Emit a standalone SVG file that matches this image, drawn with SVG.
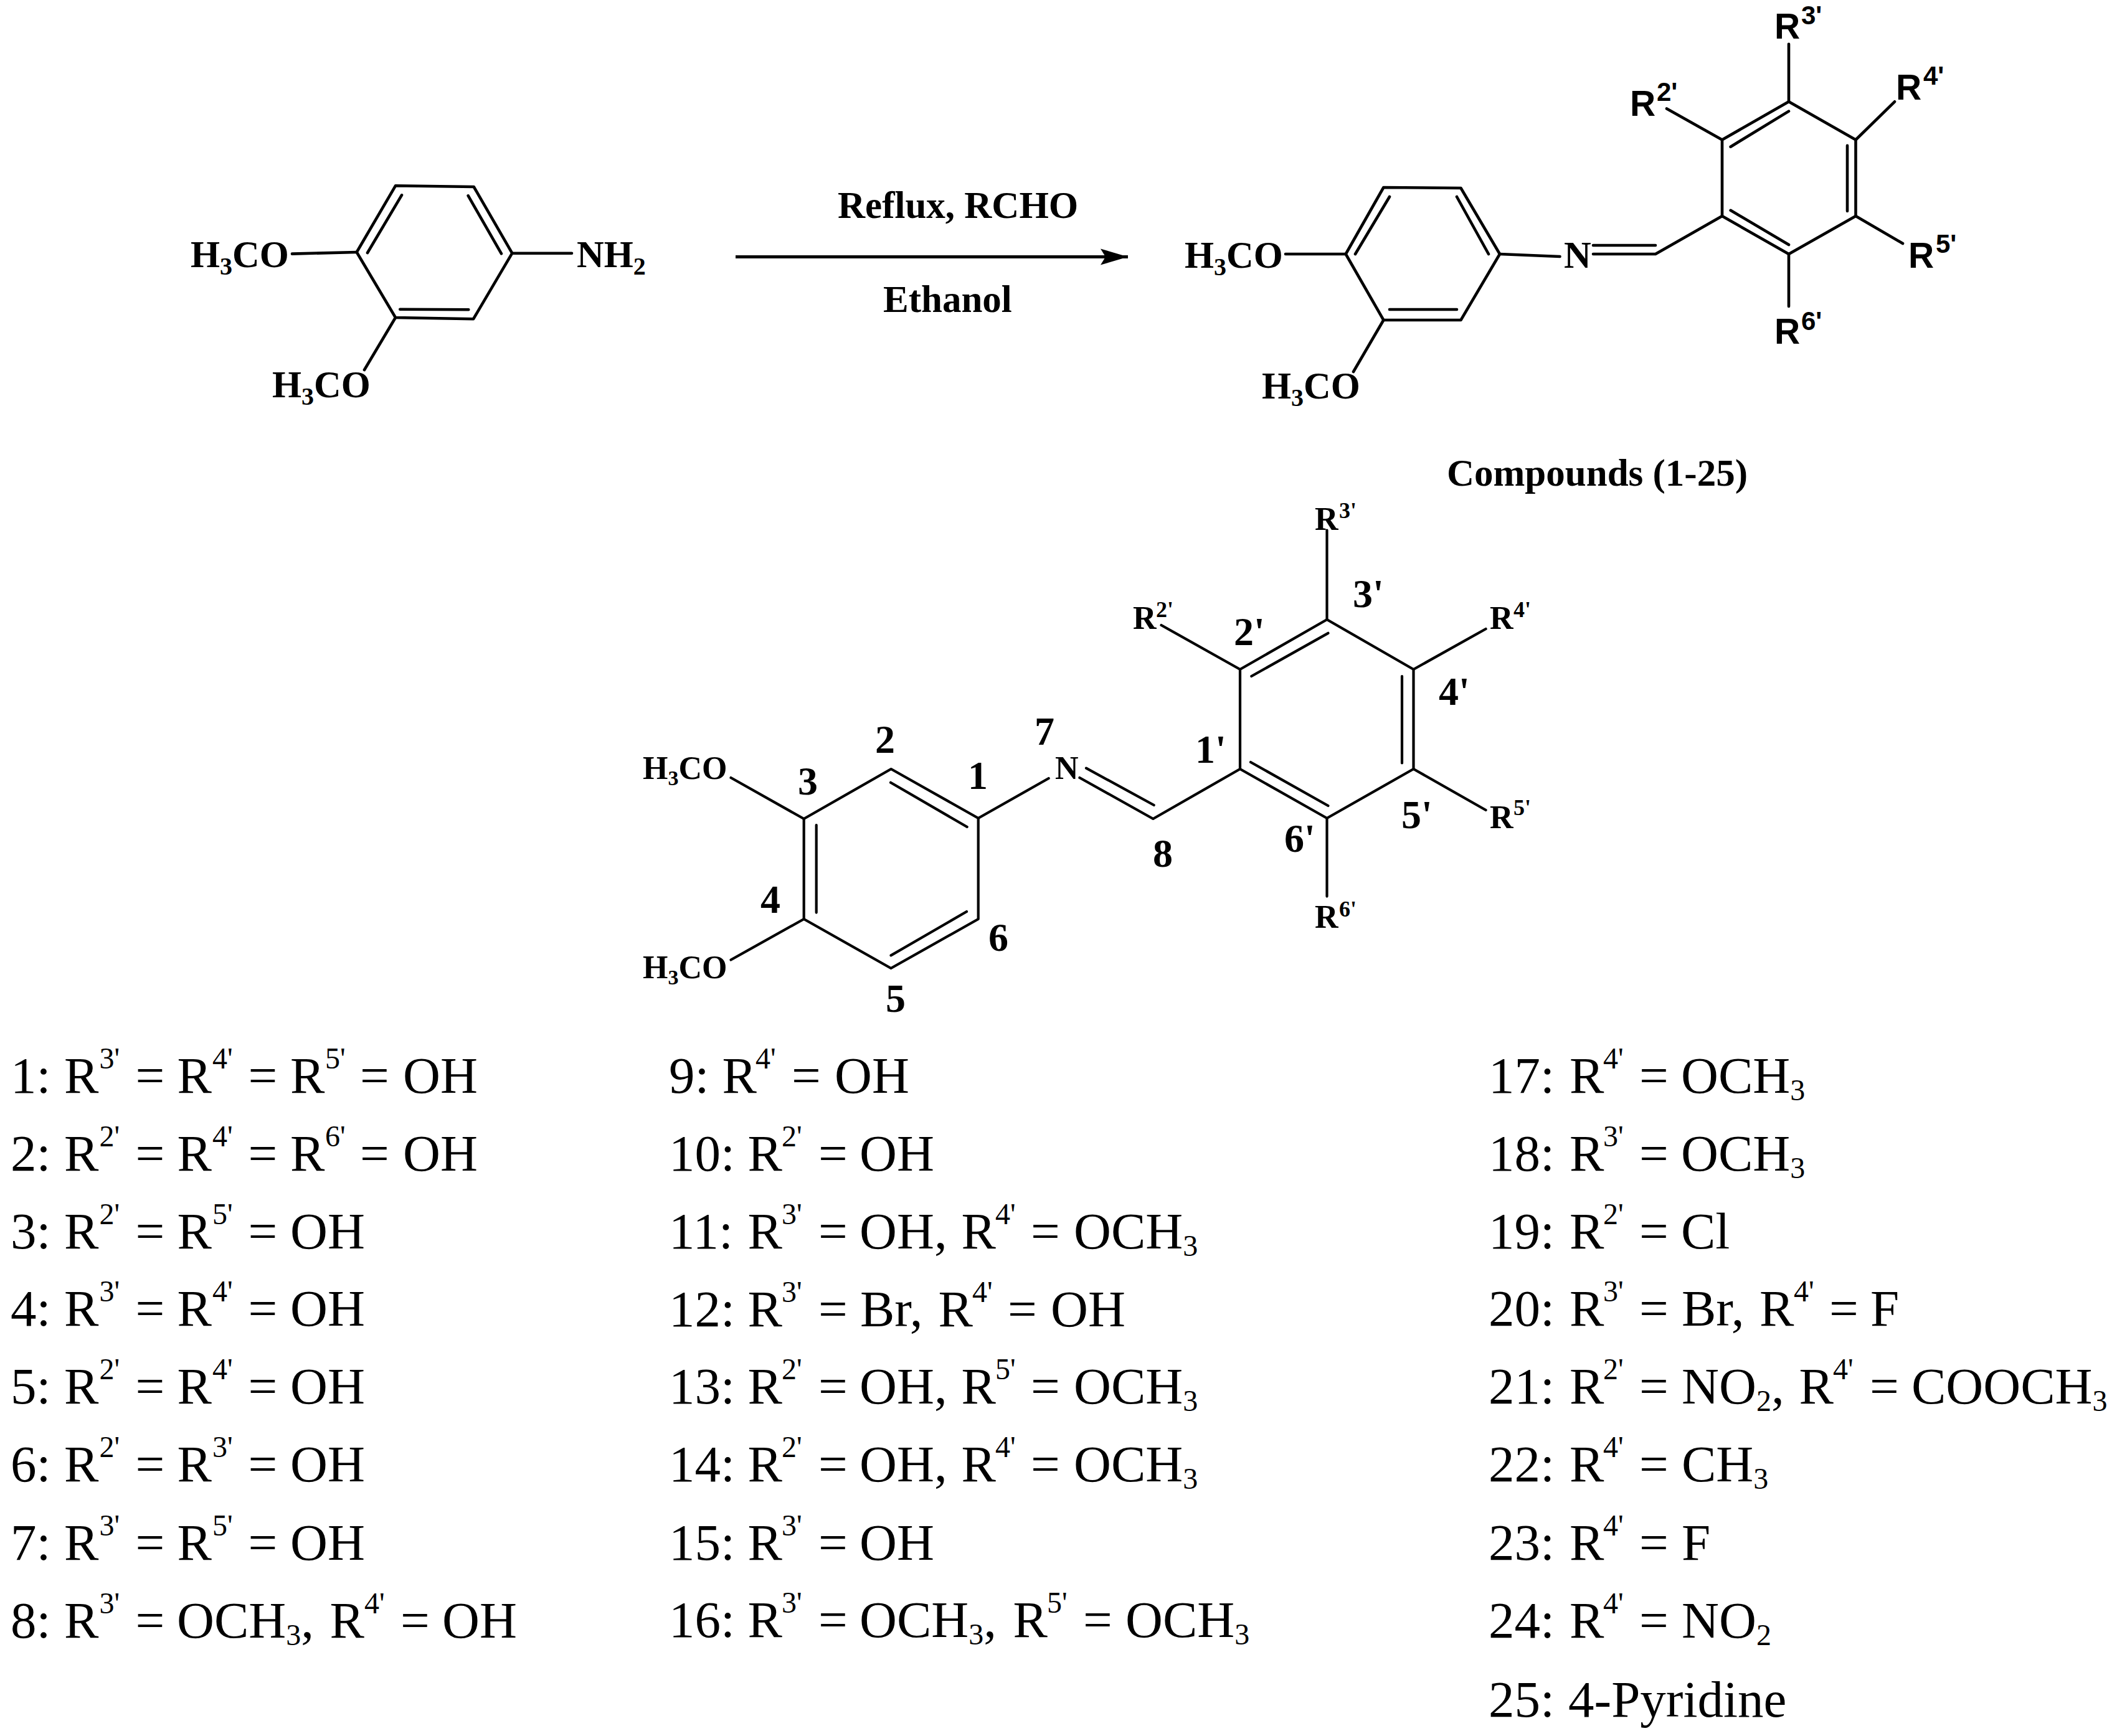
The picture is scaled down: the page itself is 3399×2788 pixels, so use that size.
<svg xmlns="http://www.w3.org/2000/svg" width="3399" height="2788" viewBox="0 0 3399 2788">
<style>
text{font-family:"Liberation Serif","Times New Roman",serif;fill:#000}
.b{font-weight:700}
.t60{font-size:60.5px}
.t61{font-size:61px}
.t52{font-size:52px}
.n{font-size:64px;font-weight:700}
.sa{font-family:"Liberation Sans",Arial,sans-serif;font-weight:700;font-size:57px}
.saS{font-family:"Liberation Sans",Arial,sans-serif;font-weight:700;font-size:42px}
.rs{font-size:36px;font-weight:700}
.l{font-size:83px}
.s{font-size:48px}
.bond{fill:none;stroke:#000;stroke-width:4.6;stroke-linecap:round;stroke-linejoin:round}
.arrow{fill:none;stroke:#000;stroke-width:5}
</style>
<defs>
<marker id="ah" markerUnits="userSpaceOnUse" markerWidth="46" markerHeight="30" refX="44" refY="15" orient="auto">
<path d="M0 2 L44 15 L0 28 L8 15 Z" fill="#000"/>
</marker>
</defs>
<rect width="3399" height="2788" fill="#fff"/>

<g id="connectors">
<path class="arrow" d="M1181 412.5H1811" marker-end="url(#ah)"/>
</g>

<g id="reactant">
<path class="bond" d="M635 298.3L760.7 300L822.3 406.7L760 512.3L635 510L572.7 405Z"/>
<path class="bond" d="M645 313.3L590 406M751.7 314.3L805 407.3M642.3 496.7L752.3 497.3"/>
<path class="bond" d="M469 407.6L572.7 405M822.3 406.7H918M635 510L585 594"/>
<text class="b t60" x="306" y="429">H<tspan font-size="40" dy="12">3</tspan><tspan dy="-12">CO</tspan></text>
<text class="b t60" x="437" y="638">H<tspan font-size="40" dy="12">3</tspan><tspan dy="-12">CO</tspan></text>
<text class="b t60" x="926" y="429">NH<tspan font-size="40" dy="12">2</tspan></text>
</g>

<g id="conditions">
<text class="b t61" x="1345" y="350">Reflux, RCHO</text>
<text class="b t61" x="1418" y="501">Ethanol</text>
</g>

<g id="product">
<path class="bond" d="M2221.4 301L2345.5 302L2408 408L2345.5 514L2221.4 514L2160.7 408Z"/>
<path class="bond" d="M2231 316L2176 408M2339 316L2390 408M2231 497H2339"/>
<path class="bond" d="M2064 408H2160.7M2221.4 514L2173 597M2408 408L2504.5 412M2558 408H2658L2765 347M2558 394H2658"/>
<path class="bond" d="M2765 347V224.5L2872 163.3L2979.5 224.5V347L2872 408Z"/>
<path class="bond" d="M2778.6 235.7L2872 178.6M2966 233.7V339M2778.6 337.8L2872 393"/>
<path class="bond" d="M2872 70.7V163.3M2676 174.5L2765 224.5M3042 163.3L2979.5 224.5M3055 391L2979.5 347M2872 492V408"/>
<text class="b t60" x="1902" y="430">H<tspan font-size="40" dy="12">3</tspan><tspan dy="-12">CO</tspan></text>
<text class="b t60" x="2026" y="640">H<tspan font-size="40" dy="12">3</tspan><tspan dy="-12">CO</tspan></text>
<text class="b t60" x="2511" y="430">N</text>
<text class="sa" x="2849" y="62">R</text><text class="saS" x="2892" y="38.5">3'</text>
<text class="sa" x="2617" y="186">R</text><text class="saS" x="2660" y="162">2'</text>
<text class="sa" x="3044" y="160">R</text><text class="saS" x="3088" y="136">4'</text>
<text class="sa" x="3064" y="430">R</text><text class="saS" x="3108" y="406">5'</text>
<text class="sa" x="2849" y="552">R</text><text class="saS" x="2892" y="530">6'</text>
<text class="b t61" x="2323" y="780">Compounds (1-25)</text>
</g>

<g id="numbered-structure">
<path class="bond" style="stroke-width:4.2" d="M1430.7 1235L1570.7 1314V1476L1430.5 1555L1290.7 1476V1315Z"/>
<path class="bond" style="stroke-width:4.2" d="M1430 1256.7L1552.7 1328M1310.7 1325V1465.6M1430.5 1534.4L1552 1464"/>
<path class="bond" style="stroke-width:4.2" d="M1173.5 1249L1290.7 1315M1173.5 1541.5L1290.7 1476M1570.7 1314L1683.7 1250M1733.4 1249L1851.4 1315L1991 1235M1744 1233.6L1852.7 1293"/>
<path class="bond" style="stroke-width:4.2" d="M1991 1235V1075L2130.5 995L2269.5 1075V1235L2130.5 1314Z"/>
<path class="bond" style="stroke-width:4.2" d="M2132.4 1016.8L2009.3 1086M2251 1086V1225.5M2008 1224L2132.4 1294"/>
<path class="bond" style="stroke-width:4.2" d="M2130.5 851.5V995M1864.5 1004L1991 1075M2385.6 1010L2269.5 1075M2385.6 1301L2269.5 1235M2130.5 1314V1439.6"/>
<text class="b t52" x="1032" y="1251">H<tspan font-size="34" dy="10">3</tspan><tspan dy="-10">CO</tspan></text>
<text class="b t52" x="1032" y="1571">H<tspan font-size="34" dy="10">3</tspan><tspan dy="-10">CO</tspan></text>
<text class="b t52" x="1694" y="1251">N</text>
<text class="n" x="1405" y="1209">2</text>
<text class="n" x="1281" y="1275.5">3</text>
<text class="n" x="1554" y="1266.5">1</text>
<text class="n" x="1661" y="1196">7</text>
<text class="n" x="1221" y="1466">4</text>
<text class="n" x="1422" y="1625">5</text>
<text class="n" x="1587" y="1527">6</text>
<text class="n" x="1851" y="1392">8</text>
<text class="n" x="1919" y="1225">1'</text>
<text class="n" x="1981" y="1036">2'</text>
<text class="n" x="2172" y="975">3'</text>
<text class="n" x="2310" y="1132">4'</text>
<text class="n" x="2250" y="1330">5'</text>
<text class="n" x="2062" y="1368">6'</text>
<text class="b t52" x="2111" y="851">R</text><text class="rs" x="2150" y="832">3'</text>
<text class="b t52" x="1819" y="1010">R</text><text class="rs" x="1856" y="991">2'</text>
<text class="b t52" x="2392" y="1010">R</text><text class="rs" x="2430" y="991">4'</text>
<text class="b t52" x="2392" y="1330">R</text><text class="rs" x="2430" y="1309">5'</text>
<text class="b t52" x="2111" y="1490">R</text><text class="rs" x="2150" y="1472">6'</text>
</g>

<g id="list-1">
<text class="l" y="1755"><tspan x="17">1:</tspan><tspan x="103">R</tspan><tspan class="s" x="159.5" dy="-39">3'</tspan><tspan x="217.5" dy="39">=</tspan><tspan x="284.5">R</tspan><tspan class="s" x="341" dy="-39">4'</tspan><tspan x="398.5" dy="39">=</tspan><tspan x="466">R</tspan><tspan class="s" x="522" dy="-39">5'</tspan><tspan x="578" dy="39">=</tspan><tspan x="647">OH</tspan></text>
<text class="l" y="1880"><tspan x="17">2:</tspan><tspan x="103">R</tspan><tspan class="s" x="159.5" dy="-39">2'</tspan><tspan x="217.5" dy="39">=</tspan><tspan x="284.5">R</tspan><tspan class="s" x="341" dy="-39">4'</tspan><tspan x="398.5" dy="39">=</tspan><tspan x="466">R</tspan><tspan class="s" x="522" dy="-39">6'</tspan><tspan x="578" dy="39">=</tspan><tspan x="647">OH</tspan></text>
<text class="l" y="2005"><tspan x="17">3:</tspan><tspan x="103">R</tspan><tspan class="s" x="159.5" dy="-39">2'</tspan><tspan x="217.5" dy="39">=</tspan><tspan x="284.5">R</tspan><tspan class="s" x="341" dy="-39">5'</tspan><tspan x="398.5" dy="39">=</tspan><tspan x="466">OH</tspan></text>
<text class="l" y="2129"><tspan x="17">4:</tspan><tspan x="103">R</tspan><tspan class="s" x="159.5" dy="-39">3'</tspan><tspan x="217.5" dy="39">=</tspan><tspan x="284.5">R</tspan><tspan class="s" x="341" dy="-39">4'</tspan><tspan x="398.5" dy="39">=</tspan><tspan x="466">OH</tspan></text>
<text class="l" y="2254"><tspan x="17">5:</tspan><tspan x="103">R</tspan><tspan class="s" x="159.5" dy="-39">2'</tspan><tspan x="217.5" dy="39">=</tspan><tspan x="284.5">R</tspan><tspan class="s" x="341" dy="-39">4'</tspan><tspan x="398.5" dy="39">=</tspan><tspan x="466">OH</tspan></text>
<text class="l" y="2379"><tspan x="17">6:</tspan><tspan x="103">R</tspan><tspan class="s" x="159.5" dy="-39">2'</tspan><tspan x="217.5" dy="39">=</tspan><tspan x="284.5">R</tspan><tspan class="s" x="341" dy="-39">3'</tspan><tspan x="398.5" dy="39">=</tspan><tspan x="466">OH</tspan></text>
<text class="l" y="2505"><tspan x="17">7:</tspan><tspan x="103">R</tspan><tspan class="s" x="159.5" dy="-39">3'</tspan><tspan x="217.5" dy="39">=</tspan><tspan x="284.5">R</tspan><tspan class="s" x="341" dy="-39">5'</tspan><tspan x="398.5" dy="39">=</tspan><tspan x="466">OH</tspan></text>
<text class="l" y="2630"><tspan x="17">8:</tspan><tspan x="103">R</tspan><tspan class="s" x="159.5" dy="-39">3'</tspan><tspan x="217.5" dy="39">=</tspan><tspan x="284">OCH</tspan><tspan class="s" dy="12">3</tspan><tspan dy="-12">,</tspan><tspan x="529.5">R</tspan><tspan class="s" x="585" dy="-39">4'</tspan><tspan x="643" dy="39">=</tspan><tspan x="710">OH</tspan></text>
</g>

<g id="list-2">
<text class="l" y="1755"><tspan x="1074">9:</tspan><tspan x="1159.5">R</tspan><tspan class="s" x="1213" dy="-39">4'</tspan><tspan x="1271" dy="39">=</tspan><tspan x="1340">OH</tspan></text>
<text class="l" y="1880"><tspan x="1074">10:</tspan><tspan x="1200.5">R</tspan><tspan class="s" x="1255" dy="-39">2'</tspan><tspan x="1314" dy="39">=</tspan><tspan x="1380">OH</tspan></text>
<text class="l" y="2005"><tspan x="1074">11:</tspan><tspan x="1200.5">R</tspan><tspan class="s" x="1255" dy="-39">3'</tspan><tspan x="1314" dy="39">=</tspan><tspan x="1380">OH,</tspan><tspan x="1543.5">R</tspan><tspan class="s" x="1598" dy="-39">4'</tspan><tspan x="1655" dy="39">=</tspan><tspan x="1724">OCH</tspan><tspan class="s" dy="12">3</tspan></text>
<text class="l" y="2130"><tspan x="1074">12:</tspan><tspan x="1200.5">R</tspan><tspan class="s" x="1255" dy="-39">3'</tspan><tspan x="1314" dy="39">=</tspan><tspan x="1381">Br,</tspan><tspan x="1506.5">R</tspan><tspan class="s" x="1561" dy="-39">4'</tspan><tspan x="1618" dy="39">=</tspan><tspan x="1687">OH</tspan></text>
<text class="l" y="2254"><tspan x="1074">13:</tspan><tspan x="1200.5">R</tspan><tspan class="s" x="1255" dy="-39">2'</tspan><tspan x="1314" dy="39">=</tspan><tspan x="1380">OH,</tspan><tspan x="1543.5">R</tspan><tspan class="s" x="1598" dy="-39">5'</tspan><tspan x="1655" dy="39">=</tspan><tspan x="1724">OCH</tspan><tspan class="s" dy="12">3</tspan></text>
<text class="l" y="2379"><tspan x="1074">14:</tspan><tspan x="1200.5">R</tspan><tspan class="s" x="1255" dy="-39">2'</tspan><tspan x="1314" dy="39">=</tspan><tspan x="1380">OH,</tspan><tspan x="1543.5">R</tspan><tspan class="s" x="1598" dy="-39">4'</tspan><tspan x="1655" dy="39">=</tspan><tspan x="1724">OCH</tspan><tspan class="s" dy="12">3</tspan></text>
<text class="l" y="2505"><tspan x="1074">15:</tspan><tspan x="1200.5">R</tspan><tspan class="s" x="1255" dy="-39">3'</tspan><tspan x="1314" dy="39">=</tspan><tspan x="1380">OH</tspan></text>
<text class="l" y="2629"><tspan x="1074">16:</tspan><tspan x="1200.5">R</tspan><tspan class="s" x="1255" dy="-39">3'</tspan><tspan x="1314" dy="39">=</tspan><tspan x="1380">OCH</tspan><tspan class="s" dy="12">3</tspan><tspan dy="-12">,</tspan><tspan x="1626.5">R</tspan><tspan class="s" x="1681" dy="-39">5'</tspan><tspan x="1739" dy="39">=</tspan><tspan x="1807">OCH</tspan><tspan class="s" dy="12">3</tspan></text>
</g>

<g id="list-3">
<text class="l" y="1755"><tspan x="2390">17:</tspan><tspan x="2520">R</tspan><tspan class="s" x="2574" dy="-39">4'</tspan><tspan x="2632" dy="39">=</tspan><tspan x="2699">OCH</tspan><tspan class="s" dy="12">3</tspan></text>
<text class="l" y="1880"><tspan x="2390">18:</tspan><tspan x="2520">R</tspan><tspan class="s" x="2574" dy="-39">3'</tspan><tspan x="2632" dy="39">=</tspan><tspan x="2699">OCH</tspan><tspan class="s" dy="12">3</tspan></text>
<text class="l" y="2005"><tspan x="2390">19:</tspan><tspan x="2520">R</tspan><tspan class="s" x="2574" dy="-39">2'</tspan><tspan x="2632" dy="39">=</tspan><tspan x="2699">Cl</tspan></text>
<text class="l" y="2129"><tspan x="2390">20:</tspan><tspan x="2520">R</tspan><tspan class="s" x="2574" dy="-39">3'</tspan><tspan x="2632" dy="39">=</tspan><tspan x="2700">Br,</tspan><tspan x="2825">R</tspan><tspan class="s" x="2880" dy="-39">4'</tspan><tspan x="2937" dy="39">=</tspan><tspan x="3003">F</tspan></text>
<text class="l" y="2254"><tspan x="2390">21:</tspan><tspan x="2520">R</tspan><tspan class="s" x="2574" dy="-39">2'</tspan><tspan x="2632" dy="39">=</tspan><tspan x="2700">NO</tspan><tspan class="s" dy="12">2</tspan><tspan dy="-12">,</tspan><tspan x="2888.5">R</tspan><tspan class="s" x="2943" dy="-39">4'</tspan><tspan x="3002" dy="39">=</tspan><tspan x="3069">COOCH</tspan><tspan class="s" dy="12">3</tspan></text>
<text class="l" y="2379"><tspan x="2390">22:</tspan><tspan x="2520">R</tspan><tspan class="s" x="2574" dy="-39">4'</tspan><tspan x="2632" dy="39">=</tspan><tspan x="2700">CH</tspan><tspan class="s" dy="12">3</tspan></text>
<text class="l" y="2505"><tspan x="2390">23:</tspan><tspan x="2520">R</tspan><tspan class="s" x="2574" dy="-39">4'</tspan><tspan x="2632" dy="39">=</tspan><tspan x="2700">F</tspan></text>
<text class="l" y="2630"><tspan x="2390">24:</tspan><tspan x="2520">R</tspan><tspan class="s" x="2574" dy="-39">4'</tspan><tspan x="2632" dy="39">=</tspan><tspan x="2700">NO</tspan><tspan class="s" dy="12">2</tspan></text>
<text class="l" y="2757"><tspan x="2390">25:</tspan><tspan x="2518">4-Pyridine</tspan></text>
</g>
</svg>
